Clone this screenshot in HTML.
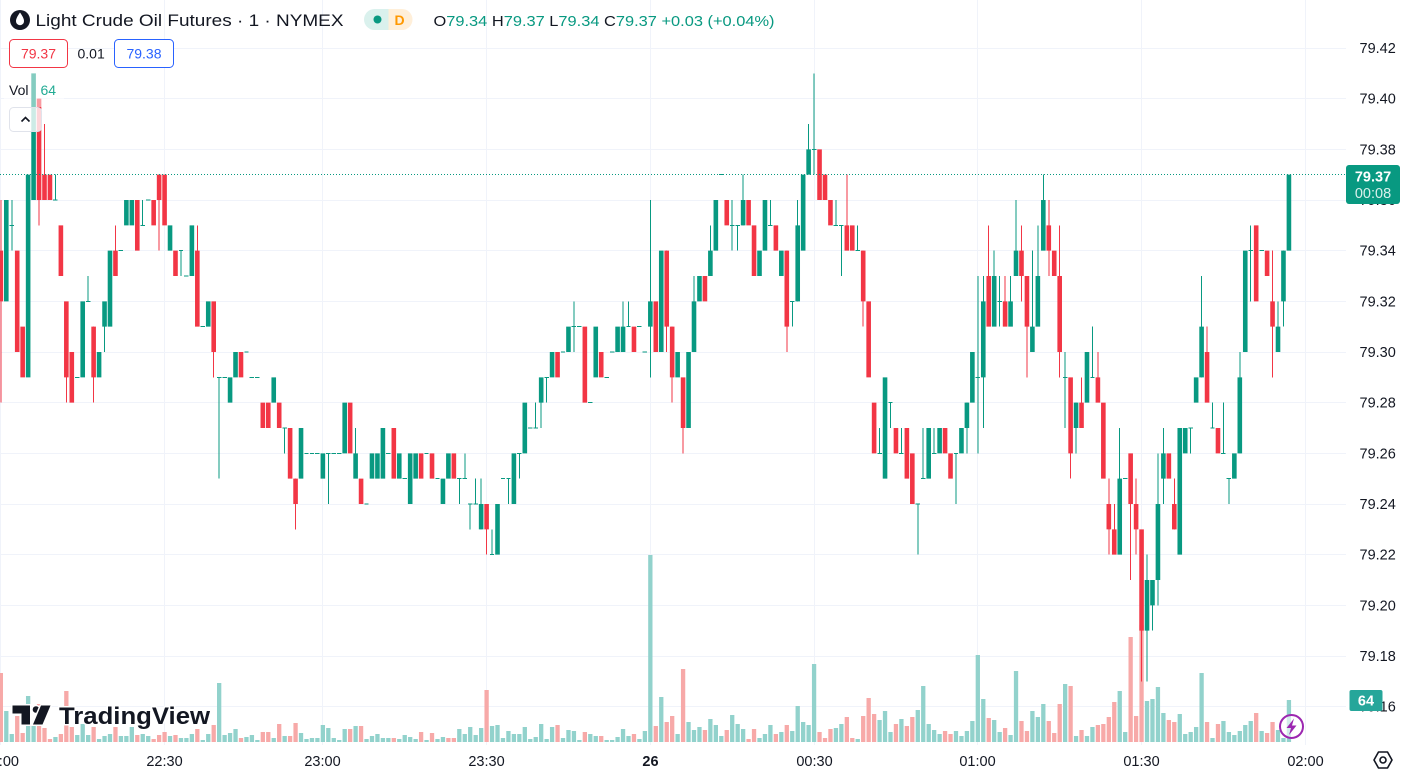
<!DOCTYPE html>
<html><head><meta charset="utf-8"><style>
html,body{margin:0;padding:0;background:#fff;overflow:hidden}
svg{display:block}
path{vector-effect:non-scaling-stroke}
text{font-family:"Liberation Sans",sans-serif}
</style></head><body>
<svg width="1404" height="778" viewBox="0 0 1404 778" xmlns="http://www.w3.org/2000/svg">
<rect width="1404" height="778" fill="#fff"/>
<!-- grid -->
<path stroke="#f0f3fa" stroke-width="1" fill="none" d="M0 48.5H1346M0 98.5H1346M0 149.5H1346M0 200.5H1346M0 250.5H1346M0 301.5H1346M0 352.5H1346M0 402.5H1346M0 453.5H1346M0 504.5H1346M0 554.5H1346M0 605.5H1346M0 656.5H1346M0 706.5H1346M0.5 0V745M164.5 0V745M322.5 0V745M486.5 0V745M650.5 0V745M814.5 0V745M977.5 0V745M1141.5 0V745M1305.5 0V745"/>
<!-- volume -->
<g transform="translate(0.84,742) scale(5.458,-1)" fill="none" stroke-width="4.3">
<path stroke="#92d2cc" d="M1 0V31M2 0V8M5 0V46M6 0V16M10 0V5M14 0V7M15 0V18M16 0V7M18 0V3M19 0V6M20 0V8M22 0V6M23 0V6M24 0V15M26 0V8M27 0V6M31 0V6M33 0V4M34 0V4M35 0V8M37 0V2M38 0V8M40 0V59M41 0V7M42 0V9M43 0V13M45 0V5M46 0V7M47 0V2M50 0V4M52 0V6M55 0V9M56 0V3M57 0V4M58 0V4M59 0V17M60 0V14M61 0V4M62 0V2M63 0V13M65 0V16M67 0V3M68 0V6M69 0V8M70 0V4M71 0V4M73 0V3M74 0V7M75 0V5M76 0V3M78 0V2M80 0V3M81 0V5M84 0V13M85 0V8M86 0V15M87 0V7M88 0V14M90 0V16M91 0V17M92 0V4M93 0V11M94 0V8M95 0V8M96 0V15M97 0V3M98 0V5M99 0V18M100 0V3M101 0V15M103 0V4M104 0V12M105 0V11M106 0V2M108 0V8M109 0V6M111 0V2M112 0V2M113 0V5M114 0V13M115 0V6M117 0V3M118 0V11M119 0V187M121 0V45M124 0V8M126 0V20M127 0V12M128 0V15M130 0V23M131 0V17M132 0V6M134 0V27M135 0V18M136 0V13M139 0V4M140 0V8M141 0V17M143 0V10M145 0V11M146 0V36M147 0V20M148 0V17M149 0V78M153 0V14M154 0V18M157 0V3M161 0V22M162 0V31M163 0V10M165 0V23M168 0V32M169 0V56M170 0V18M171 0V12M172 0V8M175 0V11M176 0V6M177 0V11M178 0V21M179 0V87M180 0V43M182 0V22M183 0V10M185 0V7M186 0V71M189 0V31M190 0V25M191 0V38M195 0V58M197 0V6M199 0V6M200 0V15M205 0V51M206 0V10M210 0V41M211 0V43M212 0V55M213 0V29M216 0V28M217 0V8M218 0V10M219 0V15M220 0V69M222 0V4M224 0V21M225 0V10M226 0V7M227 0V11M228 0V17M229 0V21M231 0V11M234 0V12M235 0V4M236 0V42"/>
<path stroke="#f7a9a8" d="M0 0V69M3 0V26M4 0V9M7 0V38M8 0V14M9 0V3M11 0V8M12 0V51M13 0V15M17 0V15M21 0V15M25 0V7M28 0V3M29 0V7M30 0V10M32 0V7M36 0V13M39 0V17M44 0V4M48 0V10M49 0V10M51 0V18M53 0V6M54 0V19M64 0V13M66 0V16M72 0V4M77 0V10M79 0V9M82 0V4M83 0V4M89 0V52M102 0V17M107 0V10M110 0V6M116 0V8M120 0V16M122 0V20M123 0V26M125 0V73M129 0V12M133 0V12M137 0V3M138 0V13M142 0V8M144 0V17M150 0V10M151 0V4M152 0V13M155 0V25M156 0V4M158 0V26M159 0V44M160 0V28M164 0V18M166 0V16M167 0V25M173 0V11M174 0V8M181 0V24M184 0V14M187 0V21M188 0V11M192 0V21M193 0V9M194 0V38M196 0V56M198 0V12M201 0V17M202 0V18M203 0V25M204 0V40M207 0V105M208 0V26M209 0V117M214 0V22M215 0V20M221 0V20M223 0V18M230 0V29M232 0V9M233 0V20"/>
</g>
<!-- candles -->
<g transform="translate(0.84,1112) scale(5.458,-25.333)" fill="none">
<path stroke="#089981" stroke-width="1" shape-rendering="crispEdges" d="M2 34V36M10 36V37M16 32V33M19 30V32M26 35V36M33 33V34M40 25V29M52 26V27M60 24V26M65 25V27M84 24V25M85 25V26M86 23V24M87 24V25M88 23V25M90 22V23M93 24V25M95 25V26M98 27V28M99 27V29M100 28V29M105 30V32M114 30V32M115 31V32M119 29V36M127 30V33M130 33V35M134 34V36M135 34V35M136 35V37M141 35V36M145 31V32M146 32V36M148 37V39M149 37V41M153 35V36M154 33V35M157 34V35M161 26V27M163 27V28M165 26V27M168 22V24M169 25V27M171 26V27M175 24V26M177 26V28M179 26V33M180 27V33M182 31V34M183 31V33M185 31V33M186 33V36M189 30V34M190 31V35M191 34V37M195 27V30M197 26V28M200 29V31M205 22V27M210 17V22M211 19V21M212 20V26M213 24V27M218 26V27M220 29V33M222 27V28M224 26V28M225 24V25M227 26V30M229 32V35M234 30V32M235 31V34"/>
<path stroke="#f23645" stroke-width="1" shape-rendering="crispEdges" d="M0 28V36M7 35V40M8 36V39M12 28V32M17 28V31M21 33V35M29 34V37M36 31V35M39 29V32M54 23V25M89 22V24M122 30V34M123 28V31M125 26V29M144 30V34M155 34V37M158 31V34M181 31V35M184 31V33M187 32V35M188 29V33M192 33V36M194 29V35M196 25V29M198 27V29M201 28V30M203 22V25M204 22V24M207 21V26M208 22V25M209 17V23M215 23V25M221 28V31M233 29V34"/>
<path stroke="#089981" stroke-width="4.6" d="M1 32V36M5 29V37M6 36V41M15 29V32M18 29V30M19 31V32M20 31V34M23 35V36M24 35V36M31 34V35M35 33V35M38 31V32M42 28V29M43 29V30M50 28V29M55 25V27M59 25V26M63 26V28M65 25V26M68 25V26M69 25V26M70 25V27M73 25V26M75 24V26M76 25V26M81 24V25M82 25V26M88 23V24M91 22V24M94 24V26M96 26V28M99 28V29M101 29V30M104 30V31M109 29V31M113 30V31M114 30V31M119 31V32M121 30V34M124 29V30M126 27V30M127 30V32M128 32V33M130 33V34M131 34V36M136 35V36M139 33V34M140 34V36M143 33V34M146 32V35M147 34V37M148 37V38M162 25V29M170 25V27M172 26V27M176 26V27M177 27V28M178 28V30M180 29V32M182 31V33M185 31V32M186 33V34M189 30V31M190 31V33M191 34V36M197 27V28M199 28V30M205 22V25M210 19V21M211 20V21M212 21V24M213 25V26M216 22V27M217 26V27M219 28V29M220 29V31M226 25V26M227 26V29M228 30V34M234 30V31M235 32V34M236 34V37"/>
<path stroke="#f23645" stroke-width="4.6" d="M0 34V32M3 34V30M4 31V29M7 40V36M8 37V36M9 37V36M11 35V33M12 32V29M13 30V28M17 31V29M21 34V33M25 36V34M28 36V35M29 37V36M30 37V35M32 34V33M36 34V31M39 32V30M44 30V29M48 28V27M49 28V27M51 28V27M53 27V25M54 25V24M64 28V26M66 25V24M72 27V25M77 26V25M79 26V25M83 26V25M89 24V23M102 30V29M107 31V28M110 30V29M116 31V30M120 32V30M122 34V31M123 31V29M125 29V27M129 33V32M133 36V35M137 36V35M138 35V33M142 35V34M144 34V31M150 38V36M151 37V36M152 36V35M155 35V34M156 35V34M158 34V32M159 32V29M160 28V26M164 27V26M166 27V25M167 26V24M173 27V26M174 26V25M181 33V31M184 32V31M187 34V33M188 33V31M192 35V34M193 34V33M194 33V30M196 29V26M198 28V27M201 29V28M202 28V25M203 24V23M204 23V22M207 26V24M208 24V23M209 23V19M214 26V25M215 24V23M221 30V28M223 27V26M230 35V32M232 34V33M233 32V31"/>
<path stroke="#089981" stroke-width="1" shape-rendering="crispEdges" d="M1.6 35h.8M9.6 36h.8M13.6 29h.8M15.6 32h.8M21.6 34h.8M25.6 35h.8M26.6 36h.8M32.6 34h.8M33.6 33h.8M36.6 31h.8M39.6 29h.8M40.6 29h.8M44.6 30h.8M45.6 29h.8M46.6 29h.8M51.6 27h.8M55.6 26h.8M56.6 26h.8M57.6 26h.8M59.6 26h.8M60.6 26h.8M61.6 26h.8M66.6 24h.8M70.6 26h.8M73.6 25h.8M77.6 26h.8M79.6 25h.8M83.6 25h.8M84.6 25h.8M85.6 24h.8M86.6 24h.8M89.6 22h.8M91.6 25h.8M92.6 25h.8M94.6 26h.8M96.6 27h.8M97.6 27h.8M99.6 29h.8M102.6 30h.8M104.6 31h.8M105.6 31h.8M107.6 28h.8M110.6 29h.8M111.6 30h.8M114.6 31h.8M116.6 31h.8M117.6 30h.8M131.6 37h.8M133.6 35h.8M134.6 35h.8M140.6 35h.8M144.6 32h.8M148.6 38h.8M152.6 35h.8M153.6 35h.8M156.6 34h.8M160.6 26h.8M162.6 28h.8M164.6 26h.8M167.6 24h.8M168.6 25h.8M170.6 26h.8M174.6 26h.8M178.6 29h.8M182.6 32h.8M194.6 29h.8M199.6 29h.8M205.6 25h.8M217.6 27h.8M221.6 27h.8M223.6 26h.8M224.6 25h.8M228.6 34h.8M230.6 34h.8"/>
</g>
<!-- current price line -->
<path d="M0 174.5H1346" stroke="#089981" stroke-width="1" stroke-dasharray="1 2" fill="none"/>

<!-- legend backdrop -->
<rect x="4" y="71" width="60" height="36" fill="#fff" fill-opacity=".5"/>
<rect x="9.5" y="107.5" width="32" height="24" rx="4" fill="#fff" fill-opacity=".8" stroke="#e0e3eb"/>
<path d="M21.5 121.5L25.5 117.5L29.5 121.5" stroke="#131722" stroke-width="1.6" fill="none"/>

<!-- header -->
<circle cx="20" cy="20" r="10" fill="#131722"/>
<path d="M20 12.5C17.2 16.5 16 18.8 16 21.2a4 4 0 0 0 8 0C24 18.8 22.8 16.5 20 12.5Z" fill="#fff"/>
<text x="35.5" y="26" font-size="17" fill="#131722" textLength="308" lengthAdjust="spacingAndGlyphs">Light Crude Oil Futures · 1 · NYMEX</text>
<path d="M374.5 9h14v21h-14a10.5 10.5 0 0 1 0-21z" fill="#daf1ed"/>
<path d="M388.5 9h13.5a10.5 10.5 0 0 1 0 21h-13.5z" fill="#ffefd9"/>
<circle cx="377.5" cy="19.5" r="4" fill="#089981"/>
<text x="399.5" y="25" font-size="14" font-weight="bold" fill="#ff9800" text-anchor="middle">D</text>
<text x="433.5" y="26" font-size="15" textLength="341" lengthAdjust="spacingAndGlyphs"><tspan fill="#131722">O</tspan><tspan fill="#089981">79.34 </tspan><tspan fill="#131722">H</tspan><tspan fill="#089981">79.37 </tspan><tspan fill="#131722">L</tspan><tspan fill="#089981">79.34 </tspan><tspan fill="#131722">C</tspan><tspan fill="#089981">79.37 +0.03 (+0.04%)</tspan></text>

<rect x="9.5" y="39.5" width="58" height="28" rx="4" fill="#fff" stroke="#f23645"/>
<text x="38.5" y="58.5" font-size="14" fill="#f23645" text-anchor="middle">79.37</text>
<text x="77.5" y="58.5" font-size="14" fill="#131722">0.01</text>
<rect x="114.5" y="39.5" width="59" height="28" rx="4" fill="#fff" stroke="#2962ff"/>
<text x="144" y="58.5" font-size="14" fill="#2962ff" text-anchor="middle">79.38</text>
<text x="9" y="95" font-size="14" fill="#131722">Vol</text>
<text x="40.5" y="95" font-size="14" fill="#22ab94">64</text>

<!-- TradingView logo -->
<g fill="#131722" stroke="#fff" stroke-width="3" paint-order="stroke" stroke-linejoin="round">
<path d="M12.5 705.5H30V724.5H21.5V713.5H12.5Z"/>
<circle cx="36" cy="709.5" r="3.3"/>
<path d="M41 705.5H50.5L42.5 724.5H33Z"/>
<text x="59" y="724" font-size="24" font-weight="bold" textLength="151" lengthAdjust="spacingAndGlyphs">TradingView</text>
</g>

<!-- price axis -->
<g font-size="14.5" fill="#131722">
<text x="1359.5" y="53">79.42</text>
<text x="1359.5" y="103.7">79.40</text>
<text x="1359.5" y="154.3">79.38</text>
<text x="1359.5" y="205">79.36</text>
<text x="1359.5" y="255.7">79.34</text>
<text x="1359.5" y="306.3">79.32</text>
<text x="1359.5" y="357">79.30</text>
<text x="1359.5" y="407.7">79.28</text>
<text x="1359.5" y="458.3">79.26</text>
<text x="1359.5" y="509">79.24</text>
<text x="1359.5" y="559.7">79.22</text>
<text x="1359.5" y="610.3">79.20</text>
<text x="1359.5" y="661">79.18</text>
<text x="1359.5" y="711.7">79.16</text>
</g>
<rect x="1346" y="165" width="54" height="39" rx="3" fill="#089981"/>
<text x="1373" y="181.5" font-size="14.5" font-weight="bold" fill="#fff" text-anchor="middle">79.37</text>
<text x="1373" y="198" font-size="14.5" fill="#fff" fill-opacity=".85" text-anchor="middle">00:08</text>
<rect x="1349.5" y="690" width="33" height="21" rx="2" fill="#26a69a"/>
<text x="1366" y="705.5" font-size="14.5" font-weight="bold" fill="#fff" text-anchor="middle">64</text>

<!-- lightning -->
<circle cx="1291.5" cy="726.5" r="11.5" fill="#fff" fill-opacity=".6" stroke="#9c27b0" stroke-width="2"/>
<path d="M1294 718.5L1286.5 728H1291L1289 735L1296.5 725.5H1292Z" fill="#9c27b0"/>

<!-- time axis -->
<g font-size="14.5" fill="#131722" text-anchor="middle">
<text x="0.8" y="766">22:00</text>
<text x="164.5" y="766">22:30</text>
<text x="322.5" y="766">23:00</text>
<text x="486.5" y="766">23:30</text>
<text x="650.5" y="766" font-weight="bold">26</text>
<text x="814.5" y="766">00:30</text>
<text x="977.5" y="766">01:00</text>
<text x="1141.5" y="766">01:30</text>
<text x="1305.5" y="766">02:00</text>
</g>
<path d="M1374 760L1378.5 752H1387.5L1392 760L1387.5 768H1378.5Z" fill="none" stroke="#131722" stroke-width="1.6" stroke-linejoin="round"/>
<circle cx="1383" cy="760" r="3" fill="none" stroke="#131722" stroke-width="1.6"/>
</svg>
</body></html>
